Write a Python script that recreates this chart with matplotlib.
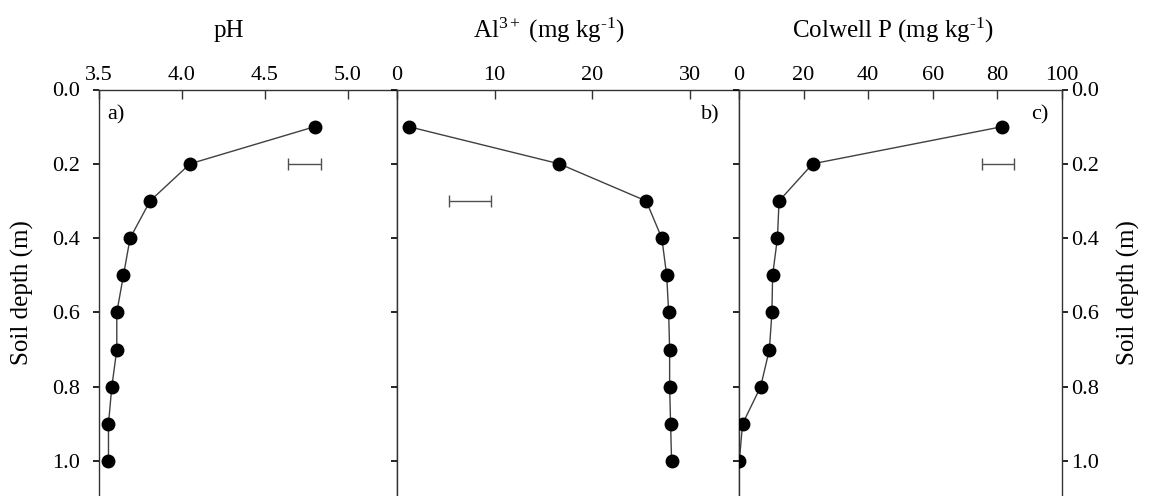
import matplotlib
matplotlib.use('Agg')
import matplotlib.pyplot as plt

plt.rcParams['font.family'] = ['Liberation Serif', 'DejaVu Serif']
plt.rcParams['mathtext.fontset'] = 'custom'
plt.rcParams['mathtext.rm'] = 'Liberation Serif'
plt.rcParams['mathtext.it'] = 'Liberation Serif:italic'

# depth of each sample (m)
depth = [0.1, 0.2, 0.3, 0.4, 0.5, 0.6, 0.7, 0.8, 0.9, 1.0]

# soil properties
ph = [4.80, 4.05, 3.81, 3.69, 3.65, 3.61, 3.61, 3.58, 3.56, 3.56]
al = [1.2, 16.6, 25.5, 27.1, 27.6, 27.8, 27.9, 27.9, 28.0, 28.1]
colwell_p = [81.5, 22.8, 12.4, 11.9, 10.4, 10.2, 9.4, 6.7, 1.1, 0.1]

# LSD bars (centre, depth, half width)
lsd_ph = (4.74, 0.2, 0.10)
lsd_al = (7.45, 0.3, 2.15)
lsd_p = (80.2, 0.2, 4.9)

titles = ['pH', r'Al$^{\mathrm{3+}}$ (mg kg$^{\text{-1}}$)',
          r'Colwell P (mg kg$^{\text{-1}}$)']
panel_labels = ['a)', 'b)', 'c)']
yticks = [0.0, 0.2, 0.4, 0.6, 0.8, 1.0]

fig = plt.figure(figsize=(11.49, 4.96), dpi=100)

W, H = 1149.0, 496.0
top = 89.5
bot = 498.2
edges = [98.5, 397, 739, 1062]
xlims = [(3.5, 5.294), (0, 35.0), (0, 100)]
xticks = [[3.5, 4.0, 4.5, 5.0], [0, 10, 20, 30], [0, 20, 40, 60, 80, 100]]
xticklabels = [['3.5', '4.0', '4.5', '5.0'], ['0', '10', '20', '30'],
               ['0', '20', '40', '60', '80', '100']]
series = [ph, al, colwell_p]
lsds = [lsd_ph, lsd_al, lsd_p]
title_x = [0.437, 0.444, 0.477]
lab_pos = [(0.028, 'left'), (0.944, 'right'), (0.957, 'right')]

spine_col = '#333333'
line_col = '#404040'

for i in range(3):
    x0, x1 = edges[i], edges[i + 1]
    ax = fig.add_axes([x0 / W, (H - bot) / H, (x1 - x0) / W, (bot - top) / H])
    ax.plot(series[i], depth, '-', color=line_col, lw=1.0, zorder=2)
    ax.plot(series[i], depth, 'o', color='black', ms=9, zorder=3)
    c, d, hw = lsds[i]
    ax.errorbar([c], [d], xerr=[hw], fmt='none', ecolor='#505050',
                elinewidth=1.0, capsize=4.5, capthick=1.0)

    ax.set_xlim(*xlims[i])
    ax.set_ylim(1.1, 0.0)
    ax.xaxis.tick_top()
    ax.set_xticks(xticks[i])
    ax.set_xticklabels(xticklabels[i])
    ax.tick_params(axis='x', direction='in', length=6.5, width=1.0,
                   color=spine_col, labelsize=16, pad=3.5)
    ax.set_yticks(yticks)
    ax.set_yticklabels(['%.1f' % t for t in yticks])
    if i == 0:
        ax.tick_params(axis='y', direction='out', length=4.5, width=1.2,
                       color='black', labelsize=16, pad=8.5)
    elif i == 2:
        ax.tick_params(axis='y', which='both', left=True, right=True,
                       labelleft=False, labelright=True, direction='out',
                       length=4.5, width=1.2, color='black', labelsize=16, pad=2)
    else:
        ax.tick_params(axis='y', direction='out', length=4.5, width=1.2,
                       color='black', labelleft=False)
    for s in ax.spines.values():
        s.set_color(spine_col)
        s.set_linewidth(1.0)

    ax.text(title_x[i], 1.128, titles[i], transform=ax.transAxes,
            ha='center', va='baseline', fontsize=18)
    ax.text(lab_pos[i][0], 0.962, panel_labels[i], transform=ax.transAxes,
            ha=lab_pos[i][1], va='top', fontsize=16)

fig.text(22 / W, (H - 293) / H, 'Soil depth (m)', rotation=90,
         ha='center', va='center', fontsize=18)
fig.text(1128 / W, (H - 293) / H, 'Soil depth (m)', rotation=90,
         ha='center', va='center', fontsize=18)

fig.savefig('out.png', dpi=100)
